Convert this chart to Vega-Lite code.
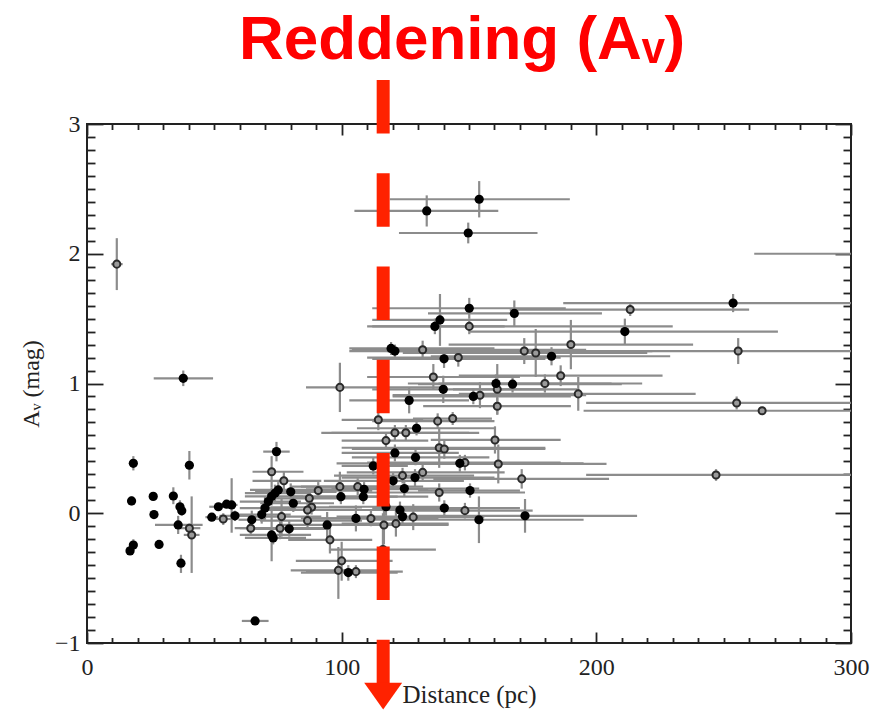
{
  "$schema": "https://vega.github.io/schema/vega-lite/v6.json",
  "width": 764,
  "height": 519,
  "autosize": {"type": "none"},
  "padding": {"left": 87, "top": 124, "right": 32, "bottom": 67},
  "background": "white",
  "title": {
    "text": "Reddening (Aᵥ)",
    "color": "#ff0000",
    "font": "Liberation Sans",
    "fontWeight": "bold",
    "fontSize": 62,
    "anchor": "middle",
    "frame": "group",
    "baseline": "alphabetic",
    "offset": 17,
    "dy": 65,
    "dx": -7
  },
  "config": {
    "view": {"stroke": "#222222", "strokeWidth": 2},
    "axis": {
      "grid": false,
      "domain": false,
      "tickColor": "#222222",
      "tickWidth": 1.8,
      "labelFont": "Liberation Serif",
      "labelFontSize": 24,
      "labelColor": "#222222",
      "labelFlush": false,
      "titleFont": "Liberation Serif",
      "titleFontSize": 25,
      "titleColor": "#222222",
      "titleFontWeight": "normal"
    }
  },
  "resolve": {"axis": {"x": "independent", "y": "independent"}},
  "data": {
    "values": [
      {"t":"o","d":11.7,"dlo":9.5,"dhi":14.0,"av":1.92,"alo":1.72,"ahi":2.12},
      {"t":"f","d":37.8,"dlo":26.2,"dhi":49.5,"av":1.04,"alo":0.98,"ahi":1.10},
      {"t":"f","d":18.2,"dlo":17.2,"dhi":19.2,"av":0.385,"alo":0.33,"ahi":0.44},
      {"t":"f","d":17.5,"dlo":16.8,"dhi":18.2,"av":0.095,"alo":0.06,"ahi":0.13},
      {"t":"f","d":18.2,"dlo":17.3,"dhi":19.1,"av":-0.245,"alo":-0.29,"ahi":-0.2},
      {"t":"f","d":16.9,"dlo":16.2,"dhi":17.6,"av":-0.29,"alo":-0.32,"ahi":-0.26},
      {"t":"f","d":26.0,"dlo":25.3,"dhi":26.7,"av":0.13,"alo":0.1,"ahi":0.16},
      {"t":"f","d":26.3,"dlo":25.6,"dhi":27.0,"av":-0.01,"alo":-0.04,"ahi":0.02},
      {"t":"f","d":28.3,"dlo":27.6,"dhi":29.0,"av":-0.24,"alo":-0.27,"ahi":-0.21},
      {"t":"f","d":33.9,"dlo":33.0,"dhi":34.8,"av":0.133,"alo":0.07,"ahi":0.2},
      {"t":"f","d":36.5,"dlo":35.6,"dhi":37.4,"av":0.05,"alo":0.0,"ahi":0.1},
      {"t":"f","d":37.2,"dlo":36.2,"dhi":38.2,"av":0.02,"alo":-0.02,"ahi":0.06},
      {"t":"f","d":35.8,"dlo":26.7,"dhi":45.4,"av":-0.09,"alo":-0.16,"ahi":-0.02},
      {"t":"o","d":40.2,"dlo":36.0,"dhi":44.5,"av":-0.115,"alo":-0.15,"ahi":-0.08},
      {"t":"o","d":41.1,"dlo":38.0,"dhi":44.2,"av":-0.167,"alo":-0.46,"ahi":0.13},
      {"t":"f","d":36.9,"dlo":35.8,"dhi":38.0,"av":-0.385,"alo":-0.46,"ahi":-0.32},
      {"t":"f","d":40.2,"dlo":39.2,"dhi":41.2,"av":0.37,"alo":0.26,"ahi":0.48},
      {"t":"f","d":49.0,"dlo":46.5,"dhi":51.5,"av":-0.03,"alo":-0.06,"ahi":0.0},
      {"t":"f","d":51.6,"dlo":48.0,"dhi":55.2,"av":0.05,"alo":0.02,"ahi":0.08},
      {"t":"f","d":54.8,"dlo":52.5,"dhi":57.1,"av":0.07,"alo":0.04,"ahi":0.1},
      {"t":"f","d":56.8,"dlo":54.5,"dhi":59.1,"av":0.064,"alo":-0.15,"ahi":0.27},
      {"t":"o","d":53.5,"dlo":50.5,"dhi":56.5,"av":-0.044,"alo":-0.09,"ahi":0.0},
      {"t":"f","d":58.1,"dlo":52.0,"dhi":64.0,"av":-0.02,"alo":-0.06,"ahi":0.02},
      {"t":"f","d":64.7,"dlo":59.5,"dhi":70.0,"av":-0.05,"alo":-0.12,"ahi":0.02},
      {"t":"o","d":64.3,"dlo":58.0,"dhi":72.0,"av":-0.115,"alo":-0.17,"ahi":-0.06},
      {"t":"f","d":66.0,"dlo":60.8,"dhi":71.3,"av":-0.83,"alo":-0.86,"ahi":-0.8},
      {"t":"f","d":68.6,"dlo":58.0,"dhi":80.0,"av":-0.01,"alo":-0.08,"ahi":0.06},
      {"t":"f","d":69.9,"dlo":60.0,"dhi":82.0,"av":0.04,"alo":-0.05,"ahi":0.13},
      {"t":"f","d":71.2,"dlo":60.0,"dhi":84.0,"av":0.09,"alo":0.02,"ahi":0.16},
      {"t":"f","d":72.5,"dlo":62.0,"dhi":85.0,"av":0.13,"alo":0.06,"ahi":0.2},
      {"t":"f","d":73.8,"dlo":62.0,"dhi":88.0,"av":0.155,"alo":0.09,"ahi":0.22},
      {"t":"f","d":75.1,"dlo":64.0,"dhi":90.0,"av":0.18,"alo":0.12,"ahi":0.24},
      {"t":"f","d":74.4,"dlo":69.2,"dhi":79.6,"av":0.475,"alo":0.4,"ahi":0.55},
      {"t":"o","d":72.5,"dlo":65.0,"dhi":85.0,"av":0.32,"alo":0.2,"ahi":0.44},
      {"t":"o","d":77.3,"dlo":65.0,"dhi":92.0,"av":0.25,"alo":0.18,"ahi":0.32},
      {"t":"f","d":80.0,"dlo":66.0,"dhi":98.0,"av":0.165,"alo":0.1,"ahi":0.23},
      {"t":"f","d":81.0,"dlo":68.0,"dhi":97.0,"av":0.077,"alo":0.01,"ahi":0.14},
      {"t":"o","d":76.4,"dlo":64.0,"dhi":92.0,"av":-0.026,"alo":-0.18,"ahi":0.12},
      {"t":"f","d":79.4,"dlo":66.0,"dhi":95.0,"av":-0.12,"alo":-0.18,"ahi":-0.06},
      {"t":"o","d":75.8,"dlo":60.0,"dhi":94.0,"av":-0.115,"alo":-0.2,"ahi":-0.03},
      {"t":"f","d":72.5,"dlo":60.0,"dhi":88.0,"av":-0.167,"alo":-0.37,"ahi":0.03},
      {"t":"f","d":73.1,"dlo":62.0,"dhi":86.0,"av":-0.19,"alo":-0.24,"ahi":-0.14},
      {"t":"o","d":90.8,"dlo":74,"dhi":112,"av":0.175,"alo":0.11,"ahi":0.24},
      {"t":"o","d":87.3,"dlo":70,"dhi":110,"av":0.115,"alo":0.05,"ahi":0.18},
      {"t":"o","d":88.2,"dlo":72,"dhi":108,"av":0.046,"alo":-0.01,"ahi":0.1},
      {"t":"o","d":86.6,"dlo":70,"dhi":106,"av":0.025,"alo":-0.03,"ahi":0.08},
      {"t":"o","d":86.6,"dlo":68,"dhi":108,"av":-0.057,"alo":-0.11,"ahi":0.0},
      {"t":"f","d":94.3,"dlo":76,"dhi":118,"av":-0.09,"alo":-0.19,"ahi":0.01},
      {"t":"o","d":95.4,"dlo":79,"dhi":112,"av":-0.205,"alo":-0.31,"ahi":-0.1},
      {"t":"o","d":99.3,"dlo":80,"dhi":124,"av":0.205,"alo":0.09,"ahi":0.32},
      {"t":"f","d":99.7,"dlo":80,"dhi":122,"av":0.128,"alo":0.07,"ahi":0.19},
      {"t":"o","d":100.0,"dlo":82,"dhi":120,"av":-0.367,"alo":-0.52,"ahi":-0.22},
      {"t":"o","d":98.7,"dlo":80,"dhi":118,"av":-0.44,"alo":-0.66,"ahi":-0.26},
      {"t":"f","d":102.6,"dlo":84,"dhi":122,"av":-0.457,"alo":-0.52,"ahi":-0.4},
      {"t":"o","d":105.6,"dlo":86,"dhi":124,"av":-0.45,"alo":-0.5,"ahi":-0.4},
      {"t":"o","d":106.3,"dlo":84,"dhi":132,"av":0.205,"alo":0.14,"ahi":0.27},
      {"t":"f","d":108.8,"dlo":86,"dhi":134,"av":0.185,"alo":0.13,"ahi":0.24},
      {"t":"f","d":108.5,"dlo":85,"dhi":134,"av":0.128,"alo":0.07,"ahi":0.19},
      {"t":"f","d":105.6,"dlo":84,"dhi":130,"av":-0.04,"alo":-0.14,"ahi":0.06},
      {"t":"o","d":111.5,"dlo":88,"dhi":138,"av":-0.04,"alo":-0.1,"ahi":0.02},
      {"t":"f","d":112.4,"dlo":100,"dhi":126,"av":0.365,"alo":0.3,"ahi":0.43},
      {"t":"o","d":99.3,"dlo":86,"dhi":140,"av":0.97,"alo":0.78,"ahi":1.16},
      {"t":"o","d":114.4,"dlo":100,"dhi":132,"av":0.72,"alo":0.64,"ahi":0.8},
      {"t":"o","d":117.4,"dlo":100,"dhi":134,"av":0.56,"alo":0.5,"ahi":0.62},
      {"t":"f","d":117.4,"dlo":95,"dhi":142,"av":0.05,"alo":-0.02,"ahi":0.12},
      {"t":"o","d":116.6,"dlo":94,"dhi":142,"av":-0.09,"alo":-0.24,"ahi":0.06},
      {"t":"o","d":116.2,"dlo":95,"dhi":137,"av":-0.28,"alo":-0.55,"ahi":0.0},
      {"t":"f","d":119.4,"dlo":103,"dhi":160,"av":1.27,"alo":1.22,"ahi":1.32},
      {"t":"f","d":120.9,"dlo":103,"dhi":150,"av":1.25,"alo":1.2,"ahi":1.3},
      {"t":"o","d":131.8,"dlo":104,"dhi":196,"av":1.26,"alo":1.19,"ahi":1.33},
      {"t":"f","d":140.2,"dlo":112,"dhi":180,"av":1.19,"alo":1.12,"ahi":1.26},
      {"t":"o","d":145.8,"dlo":110,"dhi":186,"av":1.2,"alo":1.13,"ahi":1.27},
      {"t":"o","d":171.7,"dlo":118,"dhi":222,"av":1.25,"alo":1.15,"ahi":1.35},
      {"t":"o","d":176.2,"dlo":124,"dhi":220,"av":1.235,"alo":1.05,"ahi":1.42},
      {"t":"f","d":182.4,"dlo":135,"dhi":229,"av":1.21,"alo":1.14,"ahi":1.28},
      {"t":"o","d":190.0,"dlo":142,"dhi":238,"av":1.3,"alo":1.11,"ahi":1.49},
      {"t":"o","d":136.0,"dlo":110,"dhi":170,"av":1.05,"alo":0.95,"ahi":1.15},
      {"t":"f","d":139.9,"dlo":112,"dhi":180,"av":0.955,"alo":0.85,"ahi":1.06},
      {"t":"f","d":151.7,"dlo":120,"dhi":190,"av":0.9,"alo":0.84,"ahi":0.96},
      {"t":"o","d":154.3,"dlo":120,"dhi":196,"av":0.91,"alo":0.81,"ahi":1.01},
      {"t":"f","d":160.6,"dlo":126,"dhi":206,"av":1.0,"alo":0.93,"ahi":1.07},
      {"t":"f","d":167.1,"dlo":130,"dhi":210,"av":0.995,"alo":0.93,"ahi":1.06},
      {"t":"o","d":161.1,"dlo":143.7,"dhi":192.4,"av":0.955,"alo":0.76,"ahi":1.15},
      {"t":"o","d":161.1,"dlo":132,"dhi":190,"av":0.825,"alo":0.76,"ahi":0.89},
      {"t":"o","d":179.8,"dlo":138,"dhi":218,"av":1.0,"alo":0.93,"ahi":1.07},
      {"t":"o","d":186.0,"dlo":146,"dhi":226,"av":1.06,"alo":0.98,"ahi":1.14},
      {"t":"o","d":192.9,"dlo":146,"dhi":239,"av":0.92,"alo":0.79,"ahi":1.05},
      {"t":"f","d":126.5,"dlo":103,"dhi":150,"av":0.87,"alo":0.77,"ahi":0.97},
      {"t":"o","d":137.7,"dlo":112,"dhi":160,"av":0.71,"alo":0.65,"ahi":0.77},
      {"t":"o","d":143.6,"dlo":128,"dhi":159,"av":0.73,"alo":0.68,"ahi":0.78},
      {"t":"f","d":129.4,"dlo":106,"dhi":160,"av":0.655,"alo":0.6,"ahi":0.71},
      {"t":"o","d":120.9,"dlo":92,"dhi":150,"av":0.62,"alo":0.56,"ahi":0.68},
      {"t":"o","d":125.2,"dlo":96,"dhi":154,"av":0.62,"alo":0.56,"ahi":0.68},
      {"t":"o","d":160.2,"dlo":135,"dhi":186,"av":0.565,"alo":0.46,"ahi":0.67},
      {"t":"o","d":138.3,"dlo":100,"dhi":180,"av":0.505,"alo":0.35,"ahi":0.66},
      {"t":"o","d":140.3,"dlo":104,"dhi":180,"av":0.495,"alo":0.42,"ahi":0.57},
      {"t":"f","d":120.9,"dlo":100,"dhi":146,"av":0.465,"alo":0.4,"ahi":0.53},
      {"t":"f","d":129.0,"dlo":104,"dhi":158,"av":0.43,"alo":0.37,"ahi":0.49},
      {"t":"f","d":146.4,"dlo":98,"dhi":195,"av":0.385,"alo":0.32,"ahi":0.45},
      {"t":"o","d":148.4,"dlo":110,"dhi":186,"av":0.39,"alo":0.33,"ahi":0.45},
      {"t":"o","d":161.5,"dlo":119,"dhi":204,"av":0.38,"alo":0.23,"ahi":0.53},
      {"t":"f","d":120.2,"dlo":93,"dhi":148,"av":0.25,"alo":0.19,"ahi":0.31},
      {"t":"o","d":123.9,"dlo":97,"dhi":152,"av":0.29,"alo":0.23,"ahi":0.35},
      {"t":"f","d":128.8,"dlo":100,"dhi":160,"av":0.275,"alo":0.21,"ahi":0.34},
      {"t":"o","d":131.8,"dlo":102,"dhi":164,"av":0.315,"alo":0.25,"ahi":0.38},
      {"t":"o","d":170.7,"dlo":136,"dhi":205,"av":0.265,"alo":0.19,"ahi":0.34},
      {"t":"f","d":124.6,"dlo":96,"dhi":154,"av":0.19,"alo":0.13,"ahi":0.25},
      {"t":"o","d":138.3,"dlo":108,"dhi":172,"av":0.16,"alo":0.09,"ahi":0.23},
      {"t":"f","d":150.4,"dlo":130,"dhi":170,"av":0.175,"alo":0.12,"ahi":0.23},
      {"t":"f","d":140.3,"dlo":112,"dhi":170,"av":0.04,"alo":-0.02,"ahi":0.1},
      {"t":"o","d":148.4,"dlo":122,"dhi":175,"av":0.02,"alo":-0.04,"ahi":0.08},
      {"t":"f","d":153.9,"dlo":113,"dhi":195,"av":-0.05,"alo":-0.23,"ahi":0.13},
      {"t":"f","d":172.0,"dlo":128,"dhi":216,"av":-0.02,"alo":-0.15,"ahi":0.11},
      {"t":"f","d":122.9,"dlo":98,"dhi":150,"av":0.025,"alo":-0.04,"ahi":0.09},
      {"t":"f","d":123.9,"dlo":98,"dhi":150,"av":-0.026,"alo":-0.09,"ahi":0.04},
      {"t":"o","d":128.1,"dlo":104,"dhi":156,"av":-0.03,"alo":-0.13,"ahi":0.07},
      {"t":"o","d":121.3,"dlo":100,"dhi":142,"av":-0.08,"alo":-0.18,"ahi":0.02},
      {"t":"f","d":133.4,"dlo":105,"dhi":161.5,"av":2.33,"alo":2.21,"ahi":2.45},
      {"t":"f","d":154.0,"dlo":118.9,"dhi":189.6,"av":2.42,"alo":2.28,"ahi":2.56},
      {"t":"f","d":149.7,"dlo":122.5,"dhi":176.9,"av":2.16,"alo":2.08,"ahi":2.24},
      {"t":"f","d":150.1,"dlo":112,"dhi":188,"av":1.58,"alo":1.5,"ahi":1.66},
      {"t":"f","d":167.8,"dlo":133.9,"dhi":202.2,"av":1.54,"alo":1.44,"ahi":1.64},
      {"t":"f","d":138.6,"dlo":112,"dhi":165,"av":1.49,"alo":1.29,"ahi":1.69},
      {"t":"f","d":136.6,"dlo":110,"dhi":164,"av":1.44,"alo":1.38,"ahi":1.5},
      {"t":"o","d":150.1,"dlo":112,"dhi":230,"av":1.44,"alo":1.38,"ahi":1.5},
      {"t":"f","d":211.2,"dlo":150.4,"dhi":271.3,"av":1.4,"alo":1.3,"ahi":1.5},
      {"t":"o","d":213.3,"dlo":166,"dhi":260,"av":1.57,"alo":1.52,"ahi":1.62},
      {"t":"f","d":253.7,"dlo":187,"dhi":322,"av":1.62,"alo":1.55,"ahi":1.69},
      {"t":"o","d":255.7,"dlo":185,"dhi":330,"av":1.25,"alo":1.15,"ahi":1.35},
      {"t":"o","d":255.1,"dlo":196,"dhi":320,"av":0.85,"alo":0.8,"ahi":0.9},
      {"t":"o","d":265.1,"dlo":195,"dhi":335,"av":0.79,"alo":0.76,"ahi":0.82},
      {"t":"o","d":247.0,"dlo":196,"dhi":300,"av":0.295,"alo":0.25,"ahi":0.34},
      {"t":"o","d":330.0,"dlo":262,"dhi":400,"av":2.0,"alo":1.9,"ahi":2.1}
    ]
  },
  "layer": [
    {
      "mark": {"type": "rule", "color": "#8c8c8c", "strokeWidth": 2.2, "clip": true},
      "encoding": {
        "x": {
          "field": "dlo", "type": "quantitative",
          "scale": {"domain": [0, 300], "nice": false, "zero": false},
          "axis": {"orient": "bottom", "values": [0, 100, 200, 300], "tickSize": -11, "labelPadding": 23, "title": "Distance (pc)", "titleY": 39, "titleBaseline": "top"}
        },
        "x2": {"field": "dhi"},
        "y": {
          "field": "av", "type": "quantitative",
          "scale": {"domain": [-1, 3], "nice": false, "zero": false},
          "axis": {"orient": "left", "values": [-1, 0, 1, 2, 3], "tickSize": -16, "labelPadding": 23, "title": "Aᵥ (mag)", "titleAngle": -90, "titleX": -49, "titleY": 259.5, "titleAlign": "center", "titleBaseline": "alphabetic", "titleFontSize": 24}
        }
      }
    },
    {
      "mark": {"type": "rule", "color": "#8c8c8c", "strokeWidth": 2.2, "clip": true},
      "encoding": {
        "x": {
          "field": "d", "type": "quantitative",
          "scale": {"domain": [0, 300], "nice": false, "zero": false},
          "axis": {"orient": "bottom", "values": [10,20,30,40,50,60,70,80,90,110,120,130,140,150,160,170,180,190,210,220,230,240,250,260,270,280,290], "tickSize": -5.5, "labels": false, "title": null}
        },
        "y": {
          "field": "alo", "type": "quantitative",
          "scale": {"domain": [-1, 3], "nice": false, "zero": false},
          "axis": {"orient": "left", "values": [-0.9,-0.8,-0.7,-0.6,-0.5,-0.4,-0.3,-0.2,-0.1,0.1,0.2,0.3,0.4,0.5,0.6,0.7,0.8,0.9,1.1,1.2,1.3,1.4,1.5,1.6,1.7,1.8,1.9,2.1,2.2,2.3,2.4,2.5,2.6,2.7,2.8,2.9], "tickSize": -8, "labels": false, "title": null}
        },
        "y2": {"field": "ahi"}
      }
    },
    {
      "transform": [{"filter": "datum.t === 'o'"}],
      "mark": {"type": "circle", "fill": "#9a9a9a", "stroke": "#2a2a2a", "strokeWidth": 2, "size": 50, "opacity": 1, "clip": true},
      "encoding": {
        "x": {
          "field": "d", "type": "quantitative",
          "scale": {"domain": [0, 300], "nice": false, "zero": false},
          "axis": {"orient": "top", "values": [0, 100, 200, 300], "tickSize": -11, "labels": false, "title": null}
        },
        "y": {
          "field": "av", "type": "quantitative",
          "scale": {"domain": [-1, 3], "nice": false, "zero": false},
          "axis": {"orient": "right", "values": [-1, 0, 1, 2, 3], "tickSize": -16, "labels": false, "title": null}
        }
      }
    },
    {
      "transform": [{"filter": "datum.t === 'f'"}],
      "mark": {"type": "circle", "fill": "#000000", "size": 85, "opacity": 1, "clip": true},
      "encoding": {
        "x": {
          "field": "d", "type": "quantitative",
          "scale": {"domain": [0, 300], "nice": false, "zero": false},
          "axis": {"orient": "top", "values": [10,20,30,40,50,60,70,80,90,110,120,130,140,150,160,170,180,190,210,220,230,240,250,260,270,280,290], "tickSize": -5.5, "labels": false, "title": null}
        },
        "y": {
          "field": "av", "type": "quantitative",
          "scale": {"domain": [-1, 3], "nice": false, "zero": false},
          "axis": {"orient": "right", "values": [-0.9,-0.8,-0.7,-0.6,-0.5,-0.4,-0.3,-0.2,-0.1,0.1,0.2,0.3,0.4,0.5,0.6,0.7,0.8,0.9,1.1,1.2,1.3,1.4,1.5,1.6,1.7,1.8,1.9,2.1,2.2,2.3,2.4,2.5,2.6,2.7,2.8,2.9], "tickSize": -8, "labels": false, "title": null}
        }
      }
    },
    {
      "data": {"values": [{"label": "reddening boundary"}]},
      "mark": {"type": "rule", "color": "#ff2200", "strokeWidth": 13, "strokeDash": [53.5, 39.8], "strokeCap": "butt", "clip": false},
      "encoding": {
        "x": {"datum": 116.3, "type": "quantitative", "axis": null},
        "y": {"datum": 3.34, "type": "quantitative", "axis": null},
        "y2": {"datum": -1.33}
      }
    },
    {
      "data": {"values": [{"label": "arrow"}]},
      "mark": {"type": "point", "shape": "M-1.2,-0.85L1.2,-0.85L0,0.85Z", "filled": true, "color": "#ff2200", "size": 1000, "opacity": 1, "clip": false},
      "encoding": {
        "x": {"datum": 116.3, "type": "quantitative", "axis": null},
        "y": {"datum": -1.409, "type": "quantitative", "axis": null}
      }
    }
  ]
}
